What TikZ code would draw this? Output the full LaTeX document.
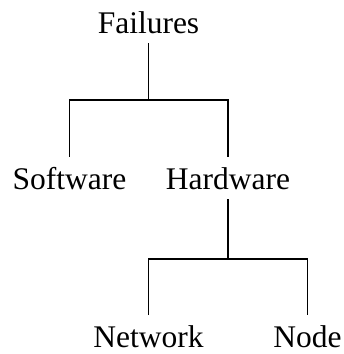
\documentclass[tikz,border=0pt]{standalone}
\usepackage{fontspec}
\setmainfont{Liberation Serif}
\begin{document}
\begin{tikzpicture}[x=1pt,y=-1pt,
  lbl/.style={inner sep=0pt,outer xsep=0pt,outer ysep=10pt,anchor=base,font=\fontsize{31.5}{37}\selectfont},
  conn/.style={line width=1.3pt}]
\useasboundingbox (0,0) rectangle (344,354);
\node[lbl] (fail) at (148.5,33) {Failures};
\node[lbl] (soft) at (69.5,189) {Software};
\node[lbl] (hard) at (228,189) {Hardware};
\node[lbl] (net) at (148.5,347) {Network};
\node[lbl] (node) at (307.5,347) {Node};
\coordinate (j1) at (148.5,100);
\coordinate (j2) at (228,259);
\draw[conn] (fail.south) -- (j1);
\draw[conn] (soft.north) |- (j1) -| (hard.north);
\draw[conn] (hard.south) -- (j2);
\draw[conn] (net.north) |- (j2) -| (node.north);
\end{tikzpicture}
\end{document}
